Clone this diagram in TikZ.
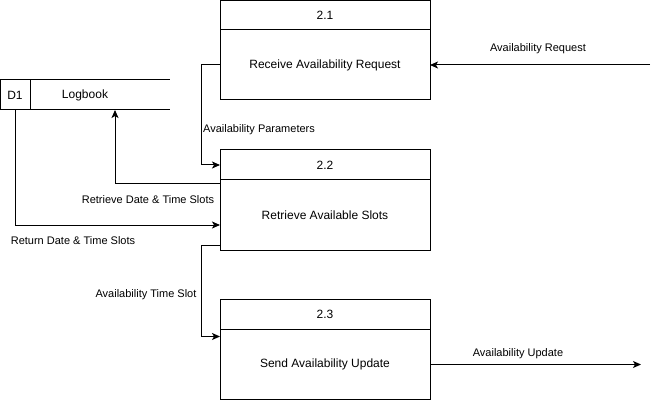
\documentclass[tikz,border=0pt]{standalone}
\usepackage{fontspec}
\setmainfont{Liberation Sans}
\usetikzlibrary{arrows.meta}

\tikzset{
  procbox/.style={draw, line width=1pt, minimum width=210pt, inner sep=0pt, outer sep=0pt, font=\fontsize{12}{14}\selectfont},
  flowlbl/.style={font=\fontsize{11}{13}\selectfont, inner sep=0pt},
  flow/.style={line width=1pt, -{Stealth[length=8pt,width=7pt,inset=2pt]}}
}

\begin{document}
\begin{tikzpicture}[x=1pt, y=-1pt]
        \useasboundingbox (0,0) rectangle (659,401);

        % Processi
        \node[procbox, minimum height=29pt] (p1head) at (325,15.5) {2.1};
        \node[procbox, minimum height=70pt, anchor=north] (p1body) at (p1head.south) {Receive Availability Request};
        \node[procbox, minimum height=30pt] (p2head) at (325,165) {2.2};
        \node[procbox, minimum height=70pt, anchor=north] (p2body) at (p2head.south) {Retrieve Available Slots};
        \node[procbox, minimum height=30pt] (p3head) at (325,314.5) {2.3};
        \node[procbox, minimum height=70pt, anchor=north] (p3body) at (p3head.south) {Send Availability Update};

        % Archivio dati
        \node[draw, line width=1pt, minimum width=30pt, minimum height=30pt, inner sep=0pt, outer sep=0pt, font=\fontsize{12}{14}\selectfont] (d1) at (15,95) {D1};
        \node[minimum width=140pt, minimum height=30pt, inner sep=0pt, outer sep=0pt] (store) at (100,95) {};
        \node[font=\fontsize{12}{14}\selectfont] (logbook) at (85,95) {Logbook};
        \draw[line width=1pt] (d1.north east) -- (store.north east);
        \draw[line width=1pt] (d1.south east) -- (store.south east);

        % Estremi liberi
        \coordinate (reqin) at (650,65);
        \coordinate (updout) at (641,364.5);

        % Flussi
        \draw[flow] (reqin) -- (p1body.east);
        \draw[flow] (p1body.west) -- ++(-19,0) |- (p2head.west);
        \draw[flow] ([yshift=31pt]p2body.west) -| ([xshift=15pt]store.south);
        \draw[flow] (d1.south) |- ([yshift=-10pt]p2body.west);
        \draw[flow] ([yshift=-30pt]p2body.west) -- ++(-19,0) |- ([yshift=28pt]p3body.west);
        \draw[flow] (p3body.east) -- (updout);

        % Etichette
        \node[flowlbl] (lreq) at (538,49) {Availability Request};
        \node[flowlbl, anchor=west] (lpar) at (203,129.5) {Availability Parameters};
        \node[flowlbl] (lret) at (148,199.5) {Retrieve Date \& Time Slots};
        \node[flowlbl] (lrtn) at (73,240.5) {Return Date \& Time Slots};
        \node[flowlbl] (lslot) at (146,294.5) {Availability Time Slot};
        \node[flowlbl] (lupd) at (518,353.5) {Availability Update};
    \end{tikzpicture}
\end{document}
